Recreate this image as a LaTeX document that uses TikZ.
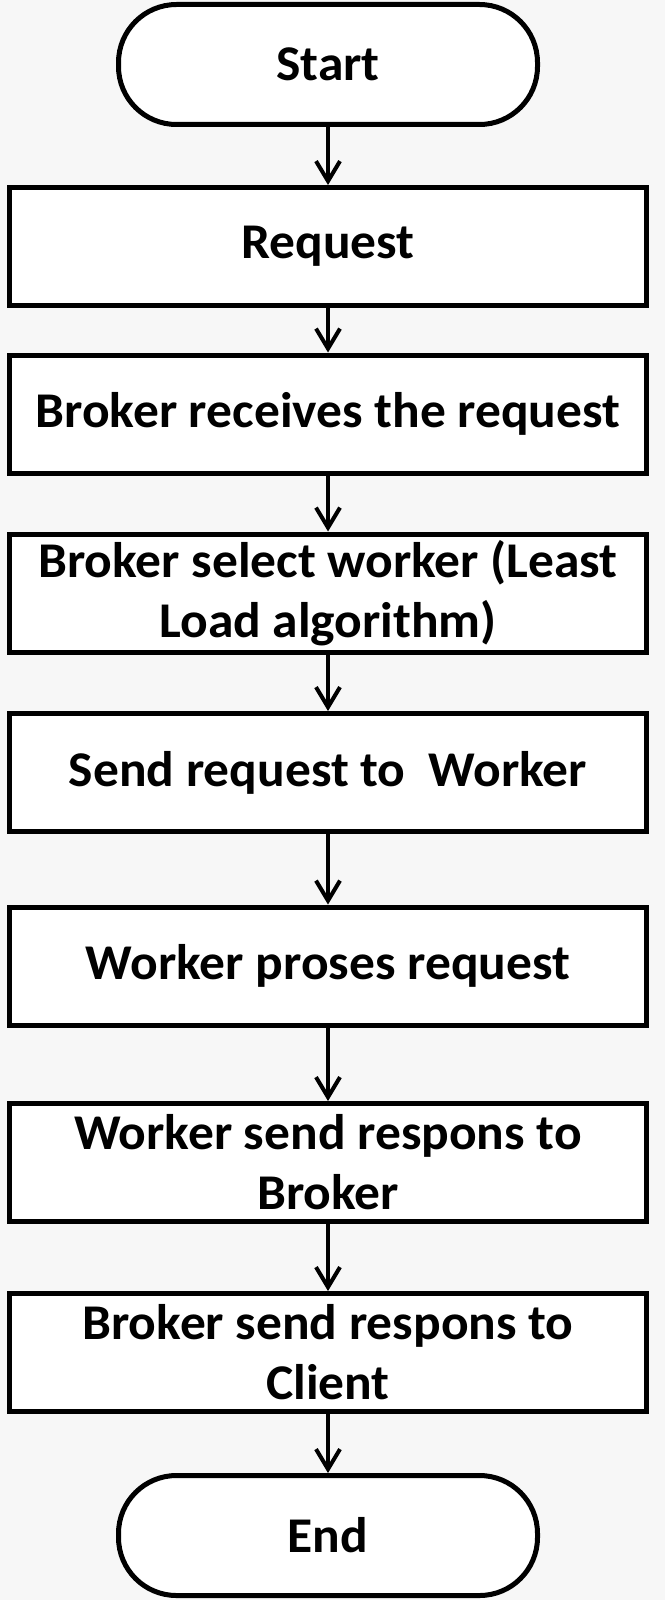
\documentclass[tikz,border=0pt]{standalone}
\usepackage{fontspec}
\setmainfont{Carlito}[FakeStretch=1.03]
\usetikzlibrary{arrows.meta}
\definecolor{bgcol}{HTML}{F7F7F7}
\begin{document}
\begin{tikzpicture}[x=1pt,y=1pt,
  every node/.style={font=\fontsize{50}{60}\selectfont\bfseries, align=center, inner sep=0pt},
  procbox/.style={draw=black, line width=5pt, fill=white, minimum width=637pt, minimum height=118pt},
  termbox/.style={draw=black, line width=5pt, fill=white, minimum width=419pt, minimum height=120pt, rounded corners=58pt},
  arr/.style={draw=black, line width=4pt, -{Straight Barb[length=20pt,width=24pt,line width=4pt]}}
]
\fill[bgcol] (0,0) rectangle (665,-1600);
\useasboundingbox (0,0) rectangle (665,-1600);
\node[termbox] (start) at (328,-64.5) {Start};
\node[procbox] (req) at (328,-246.5) {Request};
\node[procbox] (recv) at (328,-414) {Broker receives the request};
\node[procbox] (sel) at (328,-593) {Broker select worker (Least\\Load algorithm)};
\node[procbox] (send) at (328,-772.5) {Send request to\ \ Worker};
\node[procbox] (proc) at (328,-966) {Worker proses request};
\node[procbox] (wresp) at (328,-1162.5) {Worker send respons to\\Broker};
\node[procbox] (bresp) at (328,-1352.5) {Broker send respons to\\Client};
\node[termbox] (end) at (328,-1535.5) {End};
\draw[arr] (start) -- (req);
\draw[arr] (req) -- (recv);
\draw[arr] (recv) -- (sel);
\draw[arr] (sel) -- (send);
\draw[arr] (send) -- (proc);
\draw[arr] (proc) -- (wresp);
\draw[arr] (wresp) -- (bresp);
\draw[arr] (bresp) -- (end);
\end{tikzpicture}
\end{document}
